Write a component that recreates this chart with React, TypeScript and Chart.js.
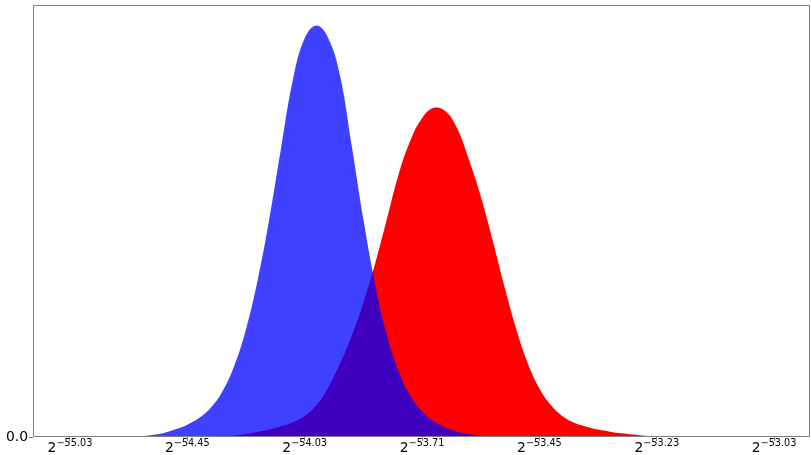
import React, { useEffect, useRef } from 'react';
import { Chart, registerables } from 'chart.js';

Chart.register(...registerables);

// x-axis ticks (linear positions) and their labels 2^{exponent}
const xTickPositions = [0, 1, 2, 3, 4, 5, 6];
const xTickBase = '2';
const xTickExponents = ['\u221255.03', '\u221254.45', '\u221254.03', '\u221253.71', '\u221253.45', '\u221253.23', '\u221253.03'];
const yTickValues = [0];
const yTickLabels = ['0.0'];

// blue distribution
const blueX = [0.5, 0.6, 0.7, 0.8, 0.9, 1.0, 1.1, 1.2, 1.3, 1.4, 1.5, 1.6, 1.7, 1.8, 1.9, 2.0, 2.1, 2.2, 2.3, 2.4, 2.5, 2.6, 2.7, 2.8, 2.9, 3.0, 3.1, 3.2, 3.3, 3.4, 3.5, 3.6];
const blueY = [0.0, 0.002, 0.005, 0.01, 0.019, 0.03, 0.046, 0.071, 0.111, 0.173, 0.262, 0.382, 0.532, 0.704, 0.869, 0.969, 1.0, 0.97, 0.88, 0.71, 0.53, 0.372, 0.248, 0.16, 0.1, 0.062, 0.038, 0.023, 0.013, 0.007, 0.003, 0.0];

// red distribution
const redX = [1.3, 1.4, 1.5, 1.6, 1.7, 1.8, 1.9, 2.0, 2.1, 2.2, 2.3, 2.4, 2.5, 2.6, 2.7, 2.8, 2.9, 3.0, 3.1, 3.2, 3.3, 3.4, 3.5, 3.6, 3.7, 3.8, 3.9, 4.0, 4.1, 4.2, 4.3, 4.4, 4.5, 4.6, 4.7, 4.8, 4.9, 5.0, 5.1];
const redY = [0.0, 0.003, 0.007, 0.012, 0.018, 0.026, 0.036, 0.051, 0.078, 0.12, 0.178, 0.245, 0.326, 0.421, 0.529, 0.638, 0.72, 0.775, 0.8, 0.792, 0.75, 0.674, 0.586, 0.48, 0.368, 0.265, 0.18, 0.118, 0.077, 0.05, 0.034, 0.025, 0.018, 0.013, 0.009, 0.006, 0.003, 0.001, 0.0];

const X_MIN = -0.315;
const X_MAX = 6.306;
const Y_MAX = 1.05;

const FONT = '"DejaVu Sans", sans-serif';

const framePlugin = {
  id: 'frameAndLabels',
  afterDraw(chart: any) {
    const { ctx, chartArea } = chart;
    const xs = chart.scales.x;
    ctx.save();
    ctx.strokeStyle = '#7f7f7f';
    ctx.lineWidth = 1;
    const l = Math.round(chartArea.left) + 0.5;
    const r = Math.round(chartArea.right) - 0.5;
    const t = Math.round(chartArea.top) + 0.5;
    const b = Math.round(chartArea.bottom) - 0.5;
    ctx.beginPath();
    ctx.moveTo(l, t);
    ctx.lineTo(r, t);
    ctx.lineTo(r, b);
    ctx.lineTo(l, b);
    ctx.closePath();
    ctx.stroke();

    ctx.fillStyle = '#000';
    ctx.textBaseline = 'alphabetic';
    ctx.textAlign = 'left';
    xTickPositions.forEach((v, i) => {
      const px = xs.getPixelForValue(v);
      ctx.font = '13.9px ' + FONT;
      const wb = ctx.measureText(xTickBase).width;
      ctx.font = '9.7px ' + FONT;
      const we = ctx.measureText(xTickExponents[i]).width;
      const start = px - (wb + we) / 2;
      ctx.font = '13.9px ' + FONT;
      ctx.fillText(xTickBase, start, chartArea.bottom + 15);
      ctx.font = '9.7px ' + FONT;
      ctx.fillText(xTickExponents[i], start + wb, chartArea.bottom + 9);
    });
    ctx.restore();
  },
};

export default function App() {
  const canvasRef = useRef<HTMLCanvasElement | null>(null);

  useEffect(() => {
    if (!canvasRef.current) return;
    const chart = new Chart(canvasRef.current, {
      type: 'line',
      data: {
        datasets: [
          {
            label: 'blue',
            data: blueX.map((x, i) => ({ x, y: blueY[i] })),
            backgroundColor: 'rgba(0,0,255,0.75)',
            borderColor: 'transparent',
            borderWidth: 0,
            pointRadius: 0,
            fill: 'origin',
            tension: 0.4,
          },
          {
            label: 'red',
            data: redX.map((x, i) => ({ x, y: redY[i] })),
            backgroundColor: 'rgb(255,0,0)',
            borderColor: 'transparent',
            borderWidth: 0,
            pointRadius: 0,
            fill: 'origin',
            tension: 0.4,
          },
        ],
      },
      options: {
        animation: false,
        responsive: false,
        layout: { padding: { top: 5, right: 1, left: 0, bottom: 0 } },
        plugins: {
          legend: { display: false },
          tooltip: { enabled: false },
        },
        scales: {
          x: {
            type: 'linear',
            min: X_MIN,
            max: X_MAX,
            border: { display: false },
            grid: { display: true, drawOnChartArea: false, drawTicks: true, tickLength: 4, color: '#7f7f7f' },
            afterBuildTicks: (scale: any) => {
              scale.ticks = xTickPositions.map((v) => ({ value: v }));
            },
            ticks: { callback: () => '', padding: 0, font: { family: FONT, size: 14 } },
            afterFit: (scale: any) => {
              scale.height = 18;
              scale.paddingLeft = 0;
              scale.paddingRight = 0;
            },
          },
          y: {
            type: 'linear',
            min: 0,
            max: Y_MAX,
            border: { display: false },
            grid: { display: true, drawOnChartArea: false, drawTicks: true, tickLength: 4, color: '#7f7f7f' },
            afterBuildTicks: (scale: any) => {
              scale.ticks = yTickValues.map((v) => ({ value: v }));
            },
            ticks: {
              callback: (_v: any, i: number) => yTickLabels[i],
              padding: 1,
              color: '#000',
              font: { family: FONT, size: 13.9 },
            },
            afterFit: (scale: any) => {
              scale.width = 33;
              scale.paddingTop = 0;
              scale.paddingBottom = 0;
            },
          },
        },
      },
      plugins: [framePlugin],
    } as any);
    return () => chart.destroy();
  }, []);

  return (
    <div style={{ position: 'fixed', left: 0, top: 0, width: 811, height: 455, background: '#fff' }}>
      <canvas ref={canvasRef} width={811} height={455} style={{ display: 'block' }} />
    </div>
  );
}
